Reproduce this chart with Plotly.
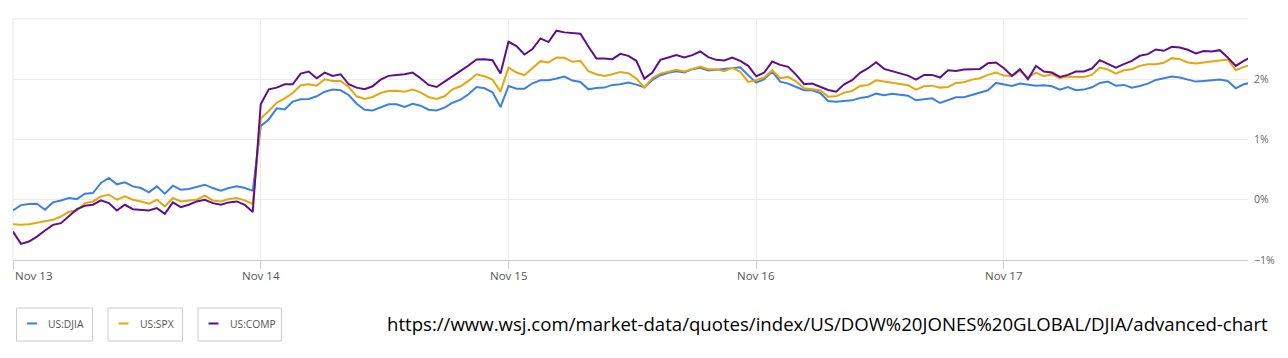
import plotly.graph_objects as go

# ---- data (percent change), sampled evenly through each trading session ----
days = ["Nov 13", "Nov 14", "Nov 15", "Nov 16", "Nov 17"]

djia_nov13 = [-0.178, -0.089, -0.072, -0.067, -0.167, -0.044, -0.011, 0.028, 0.011, 0.100, 0.111,
              0.278, 0.361, 0.256, 0.289, 0.222, 0.194, 0.122, 0.222, 0.100, 0.233, 0.167, 0.178,
              0.211, 0.250, 0.194, 0.150, 0.194, 0.222, 0.194, 0.150]
djia_nov14 = [1.222, 1.333, 1.517, 1.500, 1.628, 1.667, 1.672, 1.717, 1.794, 1.828, 1.817, 1.739,
              1.594, 1.494, 1.483, 1.528, 1.583, 1.583, 1.539, 1.594, 1.561, 1.494, 1.483, 1.528,
              1.611, 1.661, 1.750, 1.872, 1.850, 1.783, 1.539]
djia_nov15 = [1.889, 1.844, 1.844, 1.933, 1.983, 1.983, 2.011, 2.044, 1.978, 1.956, 1.833, 1.856,
              1.861, 1.906, 1.917, 1.944, 1.911, 1.867, 1.989, 2.067, 2.106, 2.133, 2.111, 2.167,
              2.189, 2.144, 2.156, 2.167, 2.189, 2.200, 2.067]
djia_nov16 = [1.944, 2.000, 2.128, 1.961, 1.928, 1.872, 1.817, 1.817, 1.772, 1.639, 1.628, 1.639,
              1.650, 1.689, 1.711, 1.761, 1.733, 1.761, 1.744, 1.728, 1.650, 1.667, 1.683, 1.606,
              1.650, 1.700, 1.700, 1.739, 1.767, 1.817, 1.939]
djia_nov17 = [1.917, 1.889, 1.928, 1.906, 1.894, 1.900, 1.883, 1.828, 1.872, 1.817, 1.828, 1.867,
              1.939, 1.961, 1.894, 1.906, 1.861, 1.889, 1.928, 1.989, 2.022, 2.044, 2.028, 1.989,
              1.961, 1.972, 1.983, 1.994, 1.972, 1.850, 1.917, 1.944]

spx_nov13 = [-0.406, -0.417, -0.406, -0.378, -0.361, -0.333, -0.278, -0.200, -0.178, -0.056, -0.028,
             0.056, 0.083, 0.000, 0.056, 0.000, -0.028, -0.067, 0.000, -0.111, 0.028, -0.028, -0.011,
             0.000, 0.067, -0.011, -0.028, 0.011, 0.028, -0.011, -0.070]
spx_nov14 = [1.350, 1.472, 1.611, 1.683, 1.772, 1.900, 1.917, 1.894, 2.000, 1.972, 1.972, 1.872,
             1.717, 1.672, 1.706, 1.772, 1.806, 1.811, 1.794, 1.828, 1.783, 1.706, 1.672, 1.717,
             1.833, 1.883, 1.972, 2.083, 2.050, 1.994, 1.794]
spx_nov15 = [2.194, 2.111, 2.067, 2.178, 2.300, 2.278, 2.361, 2.356, 2.289, 2.306, 2.133, 2.083,
             2.056, 2.083, 2.122, 2.100, 2.011, 1.861, 2.022, 2.094, 2.122, 2.156, 2.128, 2.167,
             2.211, 2.167, 2.167, 2.133, 2.189, 2.122, 1.956]
spx_nov16 = [1.983, 2.028, 2.150, 2.017, 2.039, 1.961, 1.850, 1.839, 1.817, 1.711, 1.717, 1.778,
             1.806, 1.889, 1.906, 1.983, 1.961, 1.944, 1.917, 1.900, 1.828, 1.883, 1.894, 1.861,
             1.872, 1.939, 1.950, 1.994, 2.017, 2.072, 2.111]
spx_nov17 = [2.061, 2.056, 2.139, 2.028, 2.111, 2.050, 2.083, 2.017, 2.044, 2.039, 2.039, 2.072,
             2.194, 2.161, 2.094, 2.150, 2.167, 2.222, 2.250, 2.250, 2.272, 2.350, 2.333, 2.278,
             2.261, 2.278, 2.300, 2.311, 2.328, 2.150, 2.206, 2.239]

comp_nov13 = [-0.528, -0.733, -0.694, -0.611, -0.511, -0.417, -0.389, -0.278, -0.156, -0.100, -0.083,
              -0.011, -0.056, -0.178, -0.083, -0.156, -0.167, -0.178, -0.139, -0.233, -0.044, -0.122,
              -0.083, -0.028, 0.000, -0.056, -0.083, -0.044, -0.028, -0.083, -0.205]
comp_nov14 = [1.583, 1.833, 1.861, 1.917, 1.917, 2.094, 2.128, 2.017, 2.111, 2.056, 2.083, 1.917,
              1.861, 1.833, 1.883, 1.994, 2.056, 2.072, 2.083, 2.111, 2.017, 1.906, 1.872, 1.961,
              2.056, 2.139, 2.228, 2.328, 2.333, 2.317, 2.094]
comp_nov15 = [2.622, 2.550, 2.411, 2.500, 2.678, 2.617, 2.806, 2.778, 2.767, 2.756, 2.544, 2.344,
              2.344, 2.333, 2.422, 2.389, 2.306, 2.011, 2.111, 2.322, 2.361, 2.400, 2.361, 2.400,
              2.461, 2.367, 2.322, 2.311, 2.361, 2.306, 2.222]
comp_nov16 = [2.050, 2.111, 2.294, 2.239, 2.206, 2.072, 1.917, 1.928, 1.872, 1.822, 1.794, 1.917,
              1.983, 2.106, 2.183, 2.283, 2.172, 2.139, 2.106, 2.061, 1.994, 2.072, 2.072, 2.028,
              2.150, 2.139, 2.161, 2.161, 2.172, 2.267, 2.278]
comp_nov17 = [2.183, 2.056, 2.167, 2.000, 2.222, 2.128, 2.111, 2.039, 2.072, 2.128, 2.128, 2.178,
              2.317, 2.250, 2.194, 2.250, 2.306, 2.389, 2.417, 2.494, 2.472, 2.539, 2.528, 2.489,
              2.428, 2.467, 2.461, 2.483, 2.361, 2.222, 2.306, 2.372]

series = [
    ("US:DJIA", "#3b80e4", [djia_nov13, djia_nov14, djia_nov15, djia_nov16, djia_nov17]),
    ("US:SPX", "#e6a60c", [spx_nov13, spx_nov14, spx_nov15, spx_nov16, spx_nov17]),
    ("US:COMP", "#5e0f8c", [comp_nov13, comp_nov14, comp_nov15, comp_nov16, comp_nov17]),
]

SAMPLES_PER_SESSION = 31
y_tickvals = [-1, 0, 1, 2, 3]
y_ticktext = ["\u22121%", "0%", "1%", "2%", ""]

fig = go.Figure()
for name, color, per_day in series:
    xs, ys = [], []
    for d, vals in enumerate(per_day):
        for i, v in enumerate(vals):
            xs.append(d + i / SAMPLES_PER_SESSION)
            ys.append(v)
    fig.add_trace(go.Scatter(x=xs, y=ys, mode="lines", name=name,
                             line=dict(color=color, width=2), showlegend=False,
                             hoverinfo="skip"))

W, H = 1288, 358
L, R, T, B = 13, 1248, 19, 260


def px_x(px):
    return (px - L) / (R - L)


def px_y(py):
    return (B - py) / (B - T)


fig.update_layout(
    width=W, height=H,
    margin=dict(l=L, r=W - R, t=T, b=H - B),
    paper_bgcolor="white", plot_bgcolor="white",
    font=dict(family="Open Sans", color="#666"),
    xaxis=dict(range=[0, 4.985], tickvals=list(range(len(days))), showticklabels=False,
               showgrid=True, gridcolor="#e9e9e9", gridwidth=1,
               ticks="outside", ticklen=8, tickcolor="#cccccc",
               showline=True, linecolor="#cccccc", linewidth=1, zeroline=False),
    yaxis=dict(range=[-1, 3], side="right", tickvals=y_tickvals, ticktext=y_ticktext,
               showgrid=True, gridcolor="#ececec", gridwidth=1, zeroline=False,
               ticks="", ticklabelstandoff=5,
               tickfont=dict(family="Open Sans", size=10.5, color="#666")),
)

annotations = []
for d, lab in enumerate(days):
    annotations.append(dict(x=d, y=px_y(275), xref="x", yref="paper", text=lab,
                            showarrow=False, xanchor="left" if d == 0 else "center",
                            yanchor="middle",
                            font=dict(family="Open Sans", size=11.5, color="#555")))

shapes = [
    # top frame line (3% level) and left frame line (Nov 13)
    dict(type="line", xref="paper", yref="paper", x0=0, x1=1, y0=1, y1=1,
         line=dict(color="#e6e6e6", width=1), layer="below"),
    dict(type="line", xref="paper", yref="paper", x0=0, x1=0, y0=0, y1=1,
         line=dict(color="#e6e6e6", width=1), layer="below"),
]

# legend chips drawn as boxes
legend_boxes = [(16.5, 92.5), (108, 182.5), (198, 281.5)]
for (x0, x1), (name, color, _) in zip(legend_boxes, series):
    shapes.append(dict(type="rect", xref="paper", yref="paper",
                       x0=px_x(x0), x1=px_x(x1), y0=px_y(341), y1=px_y(308),
                       line=dict(color="#cccccc", width=1), fillcolor="white"))
    shapes.append(dict(type="line", xref="paper", yref="paper",
                       x0=px_x(x0 + 10.5), x1=px_x(x0 + 20.5), y0=px_y(323.5), y1=px_y(323.5),
                       line=dict(color=color, width=2)))
    annotations.append(dict(x=px_x(x0 + 29.5), y=px_y(323.5), xref="paper", yref="paper",
                            text=name, showarrow=False, xanchor="left", yanchor="middle",
                            font=dict(family="Open Sans", size=10.3, color="#555")))

annotations.append(dict(x=px_x(385), y=px_y(323), xref="paper", yref="paper",
                        text="https://www.wsj.com/market-data/quotes/index/US/DOW%20JONES%20GLOBAL/DJIA/advanced-chart",
                        showarrow=False, xanchor="left", yanchor="middle",
                        font=dict(family="Open Sans", size=18.6, color="#000")))

fig.update_layout(annotations=annotations, shapes=shapes)

fig.write_html("out.html")
